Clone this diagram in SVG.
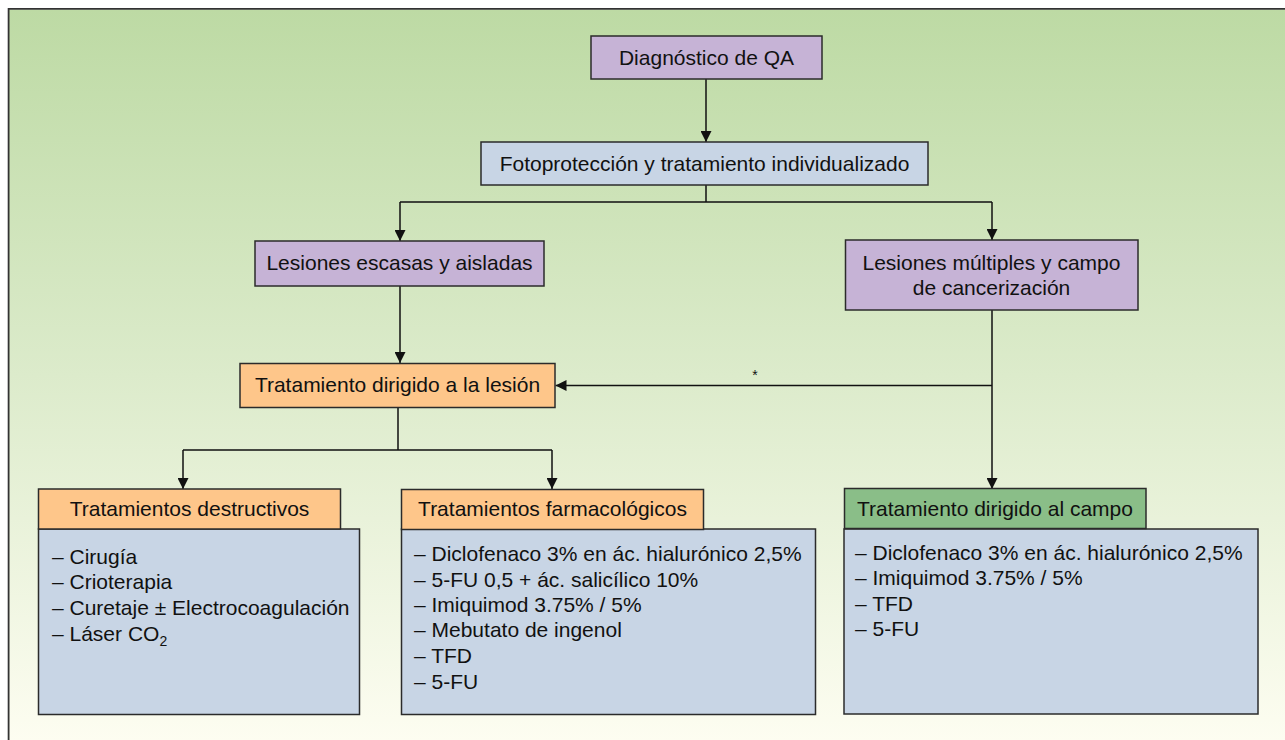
<svg xmlns="http://www.w3.org/2000/svg" width="1285" height="740" viewBox="0 0 1285 740">
  <defs>
    <linearGradient id="bg" x1="0" y1="0" x2="0" y2="1">
      <stop offset="0" stop-color="#bddaa4"/>
      <stop offset="0.5" stop-color="#dcebcb"/>
      <stop offset="1" stop-color="#fdfdf1"/>
    </linearGradient>
    <marker id="arr" markerUnits="userSpaceOnUse" markerWidth="11" markerHeight="11" viewBox="0 0 11 11" refX="11" refY="5.5" orient="auto">
      <path d="M0,0 L11,5.5 L0,11 z" fill="#111"/>
    </marker>
  </defs>
  <style>
    .box { stroke: #2b2b2b; stroke-width: 1.5; }
    .purple { fill: #c6b3d6; }
    .blue { fill: #c8d5e5; }
    .orange { fill: #fec68a; }
    .green { fill: #8abe88; }
    .t { font-family: "Liberation Sans", Arial, sans-serif; font-size: 21px; fill: #111; }
    .c { text-anchor: middle; }
    .conn { fill: none; stroke: #111; stroke-width: 1.5; }
  </style>

  <rect x="0" y="0" width="1285" height="740" fill="#ffffff"/>
  <rect x="9" y="9.5" width="1276" height="731" fill="url(#bg)"/>
  <path d="M8.6,740 V8.8 H1285" fill="none" stroke="#333" stroke-width="1.8"/>

  <g id="connectors">
    <path class="conn" d="M706,79 V142" marker-end="url(#arr)"/>
    <path class="conn" d="M706,185 V202 M400,202 H992"/>
    <path class="conn" d="M400,202 V241" marker-end="url(#arr)"/>
    <path class="conn" d="M992,202 V240" marker-end="url(#arr)"/>
    <path class="conn" d="M400,286 V363" marker-end="url(#arr)"/>
    <path class="conn" d="M992,310 V489" marker-end="url(#arr)"/>
    <path class="conn" d="M992,385.5 H555.5" marker-end="url(#arr)"/>
    <path class="conn" d="M398,407 V450 M183,450 H552"/>
    <path class="conn" d="M183,450 V489" marker-end="url(#arr)"/>
    <path class="conn" d="M552,450 V489" marker-end="url(#arr)"/>
    <text x="755" y="380" class="t c" style="font-size:14px">*</text>
  </g>

  <g id="diagnostico">
    <rect class="box purple" x="591" y="36" width="231" height="43"/>
    <text class="t c" x="706.5" y="64.5">Diagnóstico de QA</text>
  </g>

  <g id="fotoproteccion">
    <rect class="box blue" x="481" y="142" width="447" height="43"/>
    <text class="t c" x="704.5" y="170.5">Fotoprotección y tratamiento individualizado</text>
  </g>

  <g id="lesiones-escasas">
    <rect class="box purple" x="255" y="241" width="289" height="45"/>
    <text class="t c" x="399.5" y="270">Lesiones escasas y aisladas</text>
  </g>

  <g id="lesiones-multiples">
    <rect class="box purple" x="845.5" y="240" width="292.5" height="70"/>
    <text class="t c" x="991.5" y="269.5">Lesiones múltiples y campo</text>
    <text class="t c" x="991.5" y="294.5">de cancerización</text>
  </g>

  <g id="tratamiento-lesion">
    <rect class="box orange" x="240" y="363.5" width="315" height="44"/>
    <text class="t c" x="397.5" y="392">Tratamiento dirigido a la lesión</text>
  </g>

  <g id="destructivos">
    <rect class="box blue" x="38.5" y="529" width="321" height="185.5"/>
    <rect class="box orange" x="38.5" y="489" width="302" height="40"/>
    <text class="t c" x="189.5" y="516">Tratamientos destructivos</text>
    <text class="t" x="52" y="563.5">– Cirugía</text>
    <text class="t" x="52" y="589">– Crioterapia</text>
    <text class="t" x="52" y="614.5">– Curetaje ± Electrocoagulación</text>
    <text class="t" x="52" y="640.5">– Láser CO<tspan dy="5" style="font-size:14px">2</tspan></text>
  </g>

  <g id="farmacologicos">
    <rect class="box blue" x="401.5" y="529" width="414" height="185.5"/>
    <rect class="box orange" x="401.5" y="489.5" width="302" height="40"/>
    <text class="t c" x="552.5" y="516">Tratamientos farmacológicos</text>
    <text class="t" x="414" y="560.5">– Diclofenaco 3% en ác. hialurónico 2,5%</text>
    <text class="t" x="414" y="586.5">– 5-FU 0,5 + ác. salicílico 10%</text>
    <text class="t" x="414" y="611.5">– Imiquimod 3.75% / 5%</text>
    <text class="t" x="414" y="637">– Mebutato de ingenol</text>
    <text class="t" x="414" y="662.5">– TFD</text>
    <text class="t" x="414" y="688.5">– 5-FU</text>
  </g>

  <g id="tratamiento-campo">
    <rect class="box blue" x="844" y="529" width="414" height="185"/>
    <rect class="box green" x="844.5" y="488.5" width="301.5" height="40"/>
    <text class="t c" x="995" y="516">Tratamiento dirigido al campo</text>
    <text class="t" x="855" y="559.5">– Diclofenaco 3% en ác. hialurónico 2,5%</text>
    <text class="t" x="855" y="585">– Imiquimod 3.75% / 5%</text>
    <text class="t" x="855" y="610.5">– TFD</text>
    <text class="t" x="855" y="636">– 5-FU</text>
  </g>
</svg>
